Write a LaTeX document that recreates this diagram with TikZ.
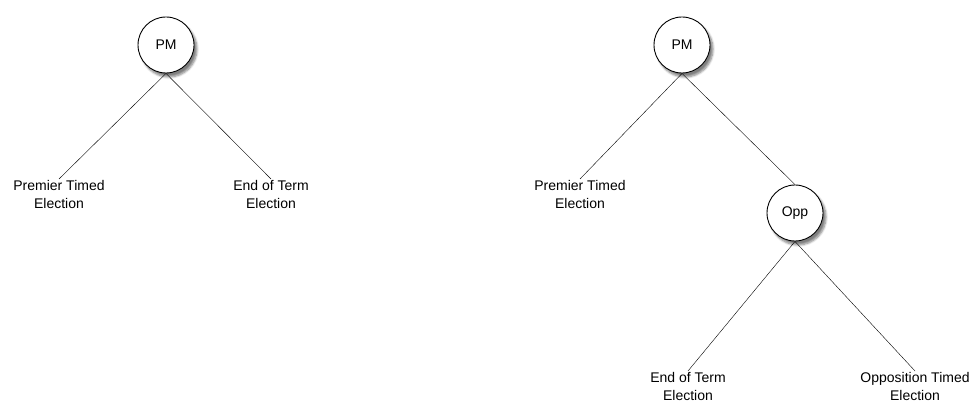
\documentclass[tikz,border=0pt]{standalone}
\usepackage{fontspec}
\setmainfont{Liberation Sans}
\usepackage{tikz}
\usetikzlibrary{positioning}
\usetikzlibrary{shadows.blur}

\begin{document}
\begin{tikzpicture}[x=1pt,y=-1pt,
  player/.style={draw,shape=circle,fill=white,line width=0.9pt,minimum size=56pt,inner sep=0pt,
    blur shadow={shadow xshift=3pt,shadow yshift=-4pt,shadow blur steps=6,shadow opacity=50}},
  outcome/.style={anchor=north,align=center,inner sep=1.5pt},
  every node/.append style={font=\fontsize{14}{18}\selectfont}]
\useasboundingbox (0,0) rectangle (977,414);
% one move
\node[player] (pmA) at (166,45) {PM};
\node[outcome] (premA) at (59,179) {Premier Timed\\Election};
\node[outcome] (endA) at (271,179) {End of Term\\Election};
  \draw (pmA.south) -- (premA.north);
  \draw (pmA.south) -- (endA.north);
% two moves
\node[player] (pmB) at (682,45) {PM};
\node[outcome] (premB) at (580,179) {Premier Timed\\Election};
\node[player] (opp) at (795,213) {Opp};
\node[outcome] (endB) at (688,371) {End of Term\\Election};
\node[outcome] (oppT) at (915,371) {Opposition Timed\\Election};
  \draw (pmB.south) -- (premB.north);
  \draw (pmB.south) -- (opp.north);
  \draw (opp.south) -- (endB.north);
  \draw (opp.south) -- (oppT.north);
\end{tikzpicture}
\end{document}
